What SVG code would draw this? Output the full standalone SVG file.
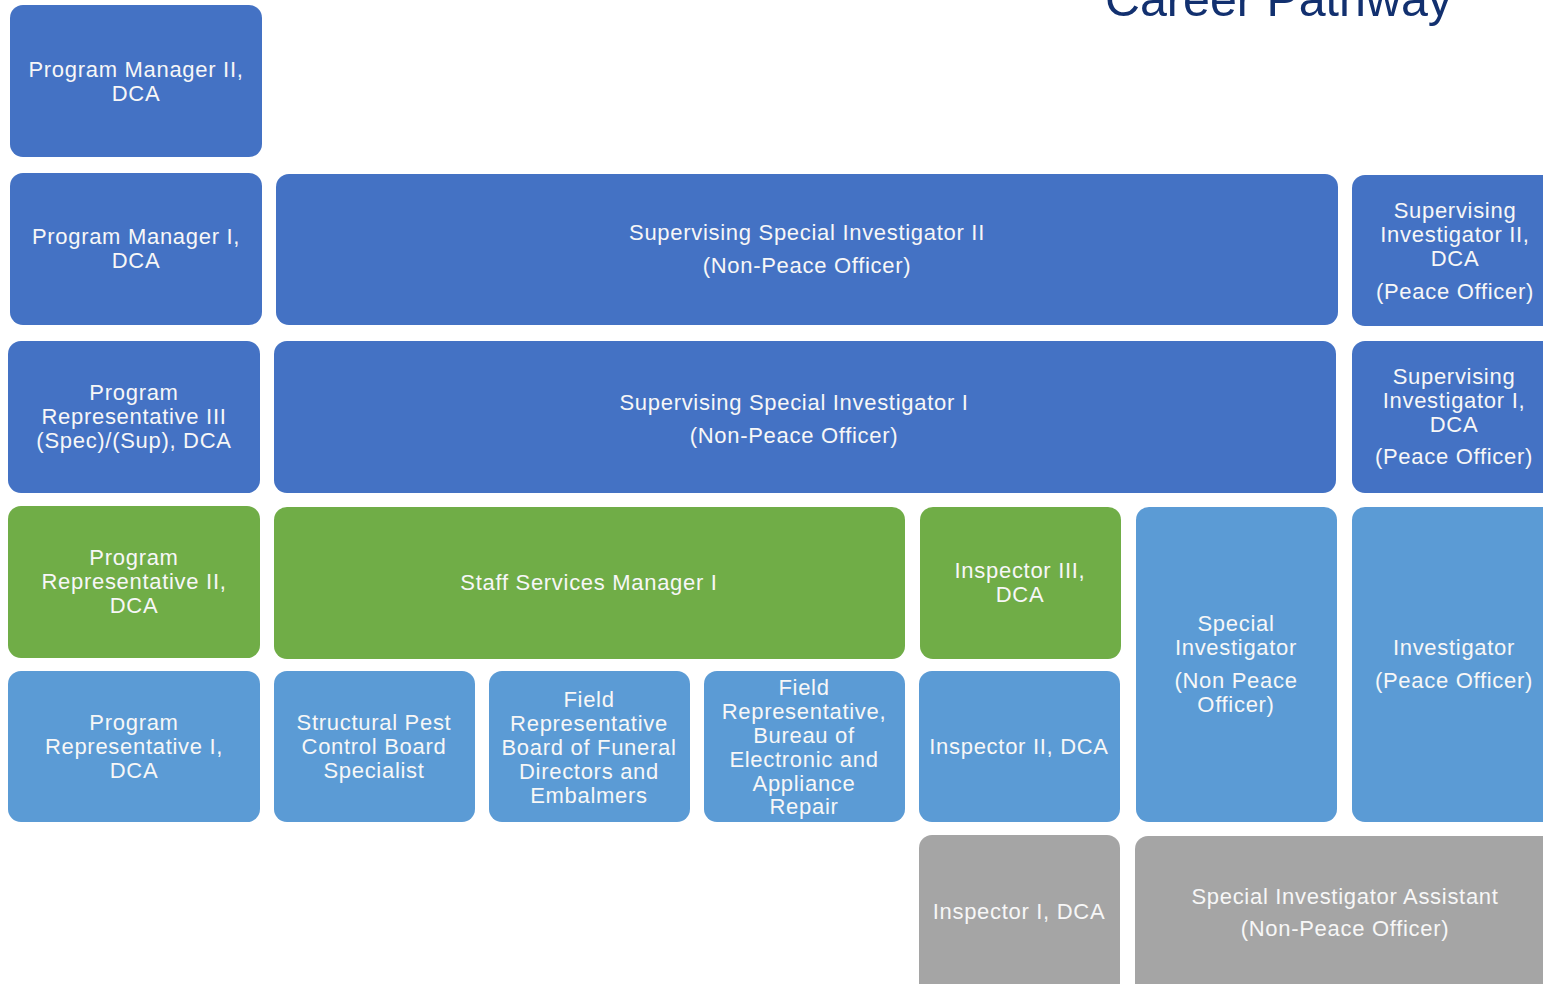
<svg xmlns="http://www.w3.org/2000/svg" width="1543" height="984" viewBox="0 0 1543 984">
<style>
.db{fill:#4472C4}
.gr{fill:#70AD47}
.lb{fill:#5B9BD5}
.gy{fill:#A5A5A5}
text{font-family:"Liberation Sans",Arial,sans-serif;font-size:22px;fill:#F7F7F7;text-anchor:middle;letter-spacing:0.7px}
.title{font-size:48px;fill:#12306F;text-anchor:start;letter-spacing:0}
</style>
<rect width="1543" height="984" fill="#FFFFFF"/>
<text class="title" x="1105" y="16" textLength="347" lengthAdjust="spacingAndGlyphs">Career Pathway</text>
<g id="connectors"></g>
<g id="pm2"><rect class="db" x="10" y="5" width="252" height="152" rx="13"/><text x="136" y="77">Program Manager II,</text><text x="136" y="101">DCA</text></g>
<g id="pm1"><rect class="db" x="10" y="173" width="252" height="152" rx="13"/><text x="136" y="244">Program Manager I,</text><text x="136" y="268">DCA</text></g>
<g id="ssi2"><rect class="db" x="276" y="174" width="1062" height="151" rx="13"/><text x="807" y="240">Supervising Special Investigator II</text><text x="807" y="273">(Non-Peace Officer)</text></g>
<g id="supinv2"><rect class="db" x="1352" y="175" width="210" height="151" rx="13"/><text x="1455" y="218">Supervising</text><text x="1455" y="242">Investigator II,</text><text x="1455" y="266">DCA</text><text x="1455" y="299">(Peace Officer)</text></g>
<g id="pr3"><rect class="db" x="8" y="341" width="252" height="152" rx="13"/><text x="134" y="400">Program</text><text x="134" y="424">Representative III</text><text x="134" y="448">(Spec)/(Sup), DCA</text></g>
<g id="ssi1"><rect class="db" x="274" y="341" width="1062" height="152" rx="13"/><text x="794" y="410">Supervising Special Investigator I</text><text x="794" y="443">(Non-Peace Officer)</text></g>
<g id="supinv1"><rect class="db" x="1352" y="341" width="210" height="152" rx="13"/><text x="1454" y="384">Supervising</text><text x="1454" y="408">Investigator I,</text><text x="1454" y="432">DCA</text><text x="1454" y="464">(Peace Officer)</text></g>
<g id="pr2"><rect class="gr" x="8" y="506" width="252" height="152" rx="13"/><text x="134" y="565">Program</text><text x="134" y="589">Representative II,</text><text x="134" y="613">DCA</text></g>
<g id="ssm1"><rect class="gr" x="274" y="507" width="631" height="152" rx="13"/><text x="589" y="590">Staff Services Manager I</text></g>
<g id="insp3"><rect class="gr" x="920" y="507" width="201" height="152" rx="13"/><text x="1020" y="578">Inspector III,</text><text x="1020" y="602">DCA</text></g>
<g id="specinv"><rect class="lb" x="1136" y="507" width="201" height="315" rx="13"/><text x="1236" y="631">Special</text><text x="1236" y="655">Investigator</text><text x="1236" y="688">(Non Peace</text><text x="1236" y="712">Officer)</text></g>
<g id="inv"><rect class="lb" x="1352" y="507" width="210" height="315" rx="13"/><text x="1454" y="655">Investigator</text><text x="1454" y="688">(Peace Officer)</text></g>
<g id="pr1"><rect class="lb" x="8" y="671" width="252" height="151" rx="13"/><text x="134" y="730">Program</text><text x="134" y="754">Representative I,</text><text x="134" y="778">DCA</text></g>
<g id="spcb"><rect class="lb" x="274" y="671" width="201" height="151" rx="13"/><text x="374" y="730">Structural Pest</text><text x="374" y="754">Control Board</text><text x="374" y="778">Specialist</text></g>
<g id="frfun"><rect class="lb" x="489" y="671" width="201" height="151" rx="13"/><text x="589" y="707">Field</text><text x="589" y="731">Representative</text><text x="589" y="755">Board of Funeral</text><text x="589" y="779">Directors and</text><text x="589" y="803">Embalmers</text></g>
<g id="frbear"><rect class="lb" x="704" y="671" width="201" height="151" rx="13"/><text x="804" y="695">Field</text><text x="804" y="719">Representative,</text><text x="804" y="743">Bureau of</text><text x="804" y="767">Electronic and</text><text x="804" y="791">Appliance</text><text x="804" y="814">Repair</text></g>
<g id="insp2"><rect class="lb" x="919" y="671" width="201" height="151" rx="13"/><text x="1019" y="754">Inspector II, DCA</text></g>
<g id="insp1"><rect class="gy" x="919" y="835" width="201" height="170" rx="13"/><text x="1019" y="919">Inspector I, DCA</text></g>
<g id="sia"><rect class="gy" x="1135" y="836" width="430" height="170" rx="13"/><text x="1345" y="904">Special Investigator Assistant</text><text x="1345" y="936">(Non-Peace Officer)</text></g>
</svg>
